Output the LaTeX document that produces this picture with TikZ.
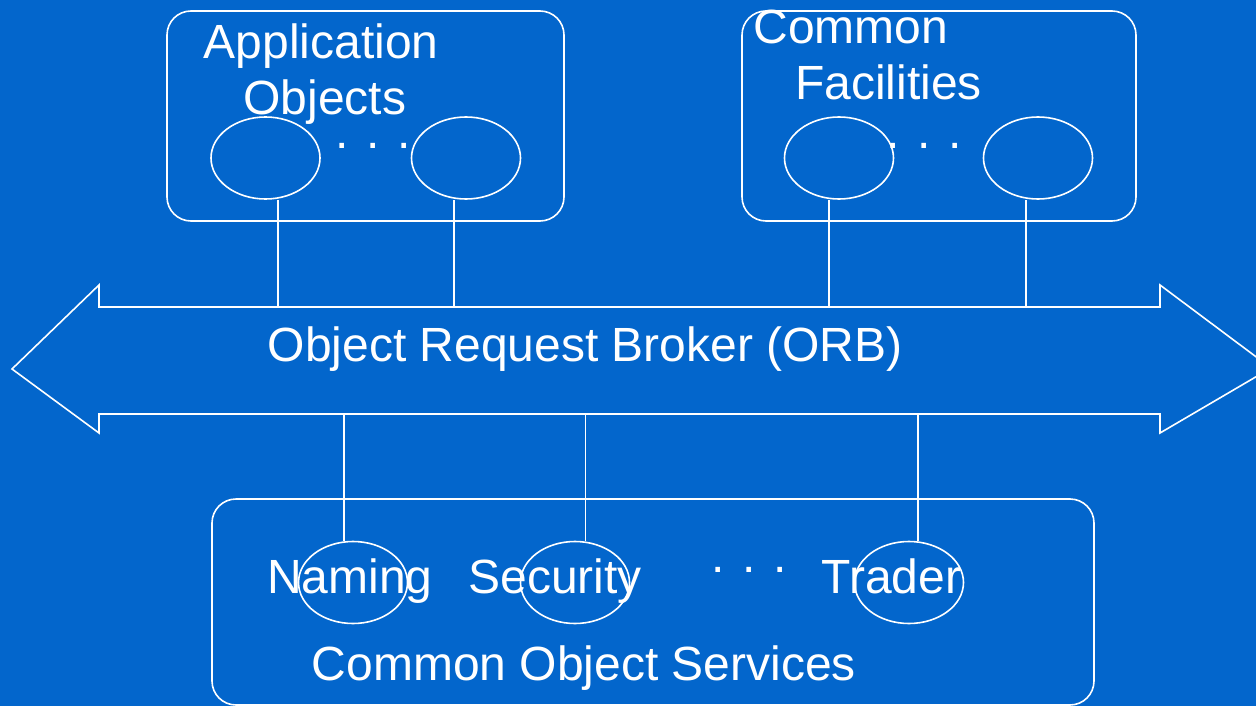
\documentclass[tikz,border=0pt]{standalone}
\usepackage{fontspec}
\setmainfont{Liberation Sans}
\usetikzlibrary{shapes.geometric}
\definecolor{slideblue}{RGB}{3,102,204}
\begin{document}
\begin{tikzpicture}[x=1pt,y=-1pt,line width=1.6pt,
  wire/.style={draw=white,line width=1.6pt},
  panel/.style={draw=white,line width=1.6pt,rounded corners=24pt,inner sep=0pt},
  obj/.style={ellipse,draw=white,line width=1.6pt,minimum width=109pt,minimum height=82pt,inner sep=0pt},
  lbl/.style={anchor=base west,inner sep=0pt,text=white,font=\fontsize{48}{56}\selectfont}]

% canvas
\useasboundingbox (0,0) rectangle (1256,706);
\fill[slideblue] (0,0) rectangle (1256,706);
\clip (0,0) rectangle (1256,706);

% group panels
\node[panel,minimum width=397pt,minimum height=210pt] (app) at (365.5,116) {};
\node[panel,minimum width=394pt,minimum height=210pt] (fac) at (939,116) {};
\node[panel,minimum width=882pt,minimum height=206pt] (svc) at (653,602) {};

% objects
\node[obj] (ao1) at (265.5,158) {};
\node[obj] (ao2) at (466,158) {};
\node[obj] (cf1) at (839,158) {};
\node[obj] (cf2) at (1038,158) {};
\node[obj] (nam) at (353,582.5) {};
\node[obj] (sec) at (575,582.5) {};
\node[obj] (trd) at (909,582.5) {};

% labels
\node[lbl] (appA) at (203,58.3) {Application};
\node[lbl] (appB) at (242.7,115) {Objects};
\node[lbl] (facA) at (752.6,43.3) {Common};
\node[lbl] (facB) at (794.4,99.3) {Facilities};
\node[lbl] (dotsA) at (334.8,148.3) {. . .};
\node[lbl] (dotsF) at (885.8,148.5) {. . .};
\node[lbl] (namL) at (266.4,593.3) {Naming};
\node[lbl] (secL) at (467.8,593.3) {Security};
\node[lbl] (dotsS) at (710.8,572.9) {. . .};
\node[lbl] (trdL) at (820.7,593.3) {Trader};
\node[lbl] (svcL) at (311,680) {Common Object Services};

% the ORB bus as a double-headed block arrow
\draw[white,line width=1.6pt,line join=miter]
  (12,369) -- (99,285) -- (99,307) -- (1160,307) -- (1160,285) -- (1271,368)
  -- (1160,433) -- (1160,414) -- (99,414) -- (99,433) -- cycle;
\node[lbl] (orb) at (267,361.7) {Object Request Broker (ORB)};

% attachment points on the bus
\coordinate (t1) at (277.7,307);
\coordinate (t2) at (453.7,307);
\coordinate (t3) at (829,307);
\coordinate (t4) at (1026,307);
\coordinate (b1) at (344,414);
\coordinate (b2) at (585.5,414);
\coordinate (b3) at (917.7,414);

% connectors
\draw[wire] (t1) -- (t1 |- ao1.south);
\draw[wire] (t2) -- (t2 |- ao2.south);
\draw[wire] (t3) -- (t3 |- cf1.south);
\draw[wire] (t4) -- (t4 |- cf2.south);
\draw[wire] (b1) -- (b1 |- nam.north);
\draw[wire] (b2) -- (b2 |- sec.north);
\draw[wire] (b3) -- (b3 |- trd.north);
\end{tikzpicture}
\end{document}
